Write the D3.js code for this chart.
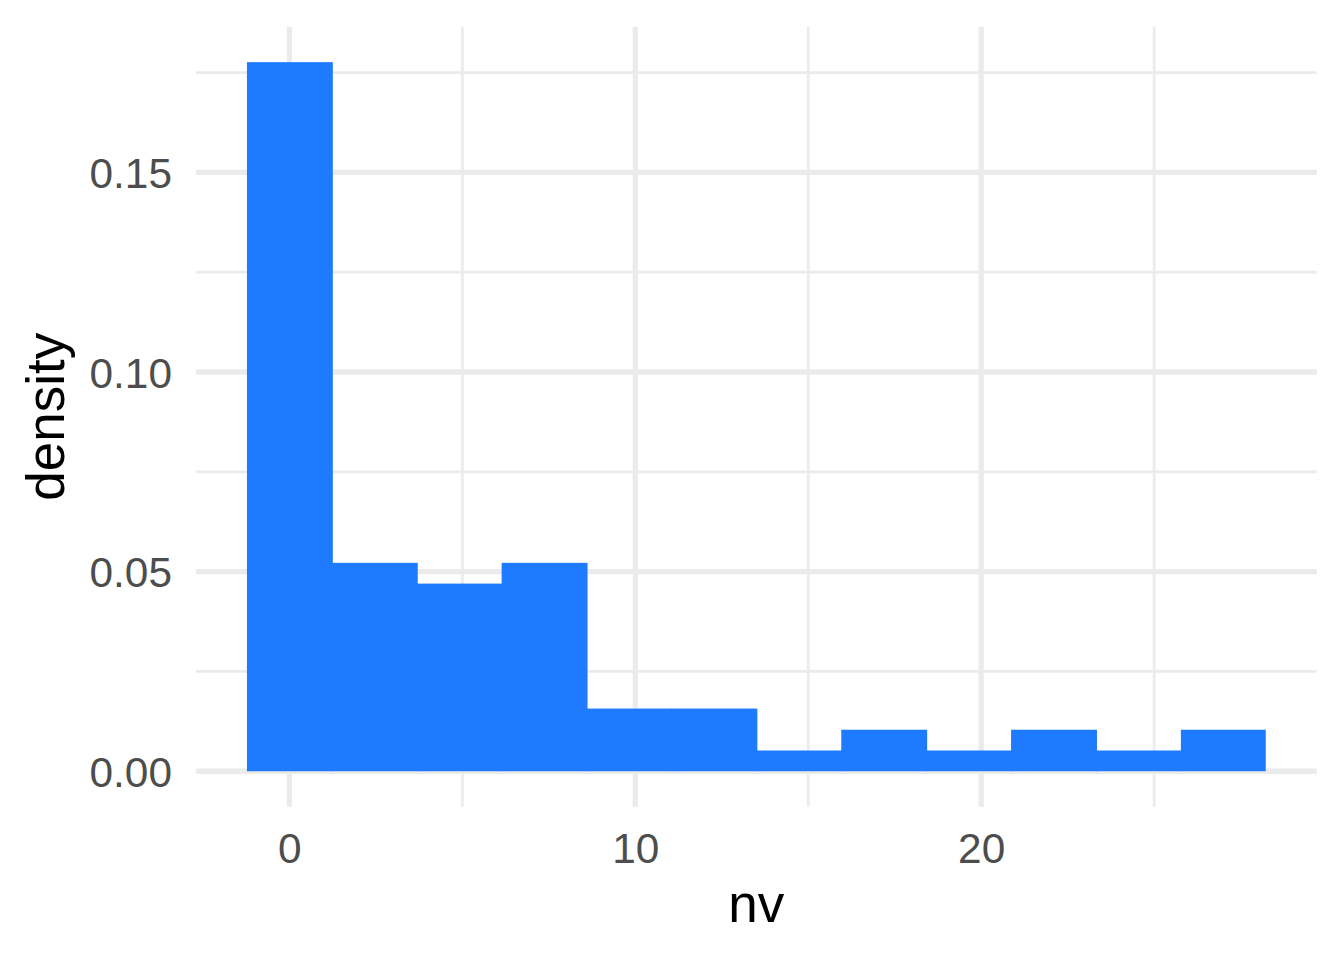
<!DOCTYPE html>
<html>
<head>
<meta charset="utf-8">
<script src="https://cdn.jsdelivr.net/npm/d3@7"></script>
<style>
  body { margin: 0; background: #fff; }
  text { font-family: "Liberation Sans", Arial, Helvetica, sans-serif; }
</style>
</head>
<body>
<script>
// histogram of nv, 12 bins, density scale

// bin edges (binwidth about 2.4545)
const binEdges = [-1.227, 1.227, 3.682, 6.136, 8.591, 11.045, 13.5,
                  15.955, 18.409, 20.864, 23.318, 25.773, 28.227];
// density of each bin
const densities = [0.1776, 0.0522, 0.0470, 0.0522, 0.0157, 0.0157,
                   0.0052, 0.0104, 0.0052, 0.0104, 0.0052, 0.0104];

const xMajor = [0, 10, 20];
const xMinor = [5, 15, 25];
const yMajor = [0, 0.05, 0.10, 0.15];
const yMinor = [0.025, 0.075, 0.125, 0.175];

const bins = densities.map((d, i) => ({x0: binEdges[i], x1: binEdges[i + 1], y: d}));

// panel box
const panel = {left: 196, right: 1316.7, top: 26.7, bottom: 806.7};

const svg = d3.select("body")
    .append("svg")
    .attr("width", 1344)
    .attr("height", 960);

// ggplot style 5% expansion
const xPad = (binEdges[binEdges.length - 1] - binEdges[0]) * 0.05;
const x = d3.scaleLinear()
    .domain([binEdges[0] - xPad, binEdges[binEdges.length - 1] + xPad])
    .range([panel.left, panel.right]);

const yMax = d3.max(densities);
const y = d3.scaleLinear()
    .domain([-yMax * 0.05, yMax * 1.05])
    .range([panel.bottom, panel.top]);

const grid = svg.append("g");

// minor grid
grid.selectAll(".vminor")
    .data(xMinor)
    .enter()
    .append("line")
    .attr("x1", d => x(d)).attr("x2", d => x(d))
    .attr("y1", panel.top).attr("y2", panel.bottom)
    .attr("stroke", "#EBEBEB").attr("stroke-width", 2.7);
grid.selectAll(".hminor")
    .data(yMinor)
    .enter()
    .append("line")
    .attr("y1", d => y(d)).attr("y2", d => y(d))
    .attr("x1", panel.left).attr("x2", panel.right)
    .attr("stroke", "#EBEBEB").attr("stroke-width", 2.7);

// major grid
grid.selectAll(".vmajor")
    .data(xMajor)
    .enter()
    .append("line")
    .attr("x1", d => x(d)).attr("x2", d => x(d))
    .attr("y1", panel.top).attr("y2", panel.bottom)
    .attr("stroke", "#EBEBEB").attr("stroke-width", 5.3);
grid.selectAll(".hmajor")
    .data(yMajor)
    .enter()
    .append("line")
    .attr("y1", d => y(d)).attr("y2", d => y(d))
    .attr("x1", panel.left).attr("x2", panel.right)
    .attr("stroke", "#EBEBEB").attr("stroke-width", 5.3);

// bars (overlap by 1px so no seams show)
svg.append("g")
    .selectAll("rect")
    .data(bins)
    .enter()
    .append("rect")
    .attr("x", d => x(d.x0))
    .attr("width", (d, i) => x(d.x1) - x(d.x0) + (i < bins.length - 1 ? 1 : 0))
    .attr("y", d => y(d.y))
    .attr("height", d => y(0) - y(d.y))
    .attr("fill", "#1E7BFF");

// axes (labels only)
const xAxis = svg.append("g")
    .attr("transform", `translate(0,${panel.bottom})`)
    .call(d3.axisBottom(x).tickValues(xMajor).tickSize(0).tickPadding(26).tickFormat(d3.format("d")));
const yAxis = svg.append("g")
    .attr("transform", `translate(${panel.left},0)`)
    .call(d3.axisLeft(y).tickValues(yMajor).tickSize(0).tickPadding(24).tickFormat(d3.format(".2f")));

[xAxis, yAxis].forEach(a => {
    a.select(".domain").remove();
    a.selectAll("text")
        .attr("fill", "#4D4D4D")
        .style("font-size", "42.4px");
});
yAxis.selectAll("text").attr("dy", "0.36em");

// axis titles
svg.append("text")
    .attr("x", (panel.left + panel.right) / 2)
    .attr("y", 922)
    .attr("text-anchor", "middle")
    .style("font-size", "53px")
    .attr("fill", "#000")
    .text("nv");

svg.append("text")
    .attr("transform", `translate(64,${(panel.top + panel.bottom) / 2}) rotate(-90)`)
    .attr("text-anchor", "middle")
    .style("font-size", "53px")
    .attr("fill", "#000")
    .text("density");
</script>
</body>
</html>
